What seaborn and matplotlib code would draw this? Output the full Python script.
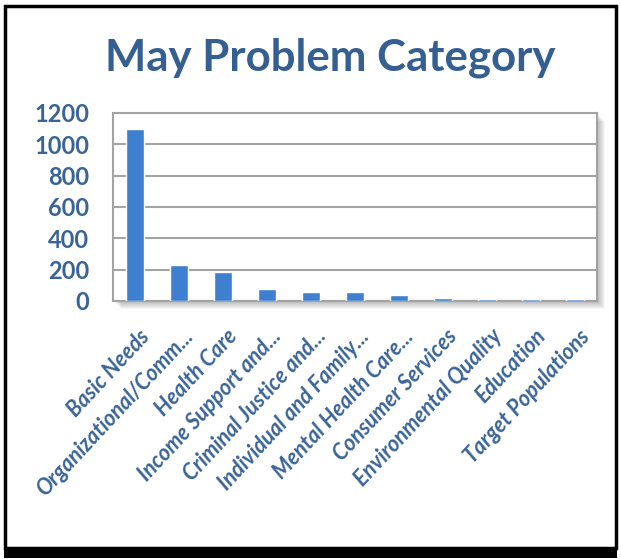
import numpy as np
import pandas as pd
import seaborn as sns
import matplotlib.pyplot as plt
import matplotlib.transforms as mtransforms
from matplotlib.patches import Rectangle

# data
categories = ['Basic Needs', 'Organizational/Comm...', 'Health Care',
              'Income Support and...', 'Criminal Justice and...',
              'Individual and Family...', 'Mental Health Care...',
              'Consumer Services', 'Environmental Quality', 'Education',
              'Target Populations']
counts = [1096, 232, 185, 75, 57, 55, 38, 19, 11, 11, 11]
y_ticks = [0, 200, 400, 600, 800, 1000, 1200]

df = pd.DataFrame({'category': categories, 'count': counts})

sns.set_style('white')
plt.rcParams['font.family'] = ['Lato', 'DejaVu Sans']

text_col = '#3a6496'
bar_col = '#3f7fd0'
grid_col = '#a3a3a3'

fig = plt.figure(figsize=(6.21, 5.59), dpi=100)
ax = fig.add_axes([113 / 621, 1 - 301 / 559, 484 / 621, 188 / 559])

# soft shadow right/bottom of plot area
for i in range(8):
    off = (i + 1)
    fig.patches.append(Rectangle(((113 + off) / 621, (258 - off) / 559),
                                 484 / 621, 188 / 559, transform=fig.transFigure,
                                 facecolor='black', alpha=0.035, edgecolor='none',
                                 zorder=-1))
ax.set_facecolor('white')

sns.barplot(data=df, x='category', y='count', color=bar_col, width=0.39,
            saturation=1, ax=ax, zorder=3)

ax.set_ylim(0, 1200)
ax.set_yticks(y_ticks)
ax.yaxis.grid(True, color=grid_col, linewidth=1.5)
ax.set_axisbelow(True)
for s in ax.spines.values():
    s.set_color(grid_col)
    s.set_linewidth(1.5)
ax.set_xlabel('')
ax.set_ylabel('')
ax.tick_params(axis='y', length=0, pad=17, labelsize=17, labelcolor=text_col)
ax.tick_params(axis='x', length=0, pad=14, labelcolor=text_col)
for lab in ax.get_yticklabels():
    lab.set_fontweight('bold')
ax.set_xticks(range(len(categories)))
ax.set_xticklabels(categories, rotation=47, ha='right', va='center',
                   rotation_mode='anchor', fontsize=15.5, fontweight='bold',
                   fontstyle='italic')
# labels sit a little right/down of the ticks
shift = mtransforms.ScaledTranslation(8 / 72, -9 / 72, fig.dpi_scale_trans)
for lab in ax.get_xticklabels():
    lab.set_transform(lab.get_transform() + shift)

fig.text(330 / 621, 1 - 58 / 559, 'May Problem Category', ha='center', va='center',
         fontsize=31.5, fontweight='bold', color='#355e91')

# outer frame with heavy bottom shadow
fig.patches.append(Rectangle((4.5 / 621, 1 - 548 / 559), 611 / 621, 542 / 559,
                             transform=fig.transFigure, fill=False,
                             edgecolor='black', linewidth=2.5))
fig.patches.append(Rectangle((4 / 621, 1 - 558 / 559), 613 / 621, 10 / 559,
                             transform=fig.transFigure, facecolor='black',
                             edgecolor='none'))

fig.savefig('out.png', dpi=100)
